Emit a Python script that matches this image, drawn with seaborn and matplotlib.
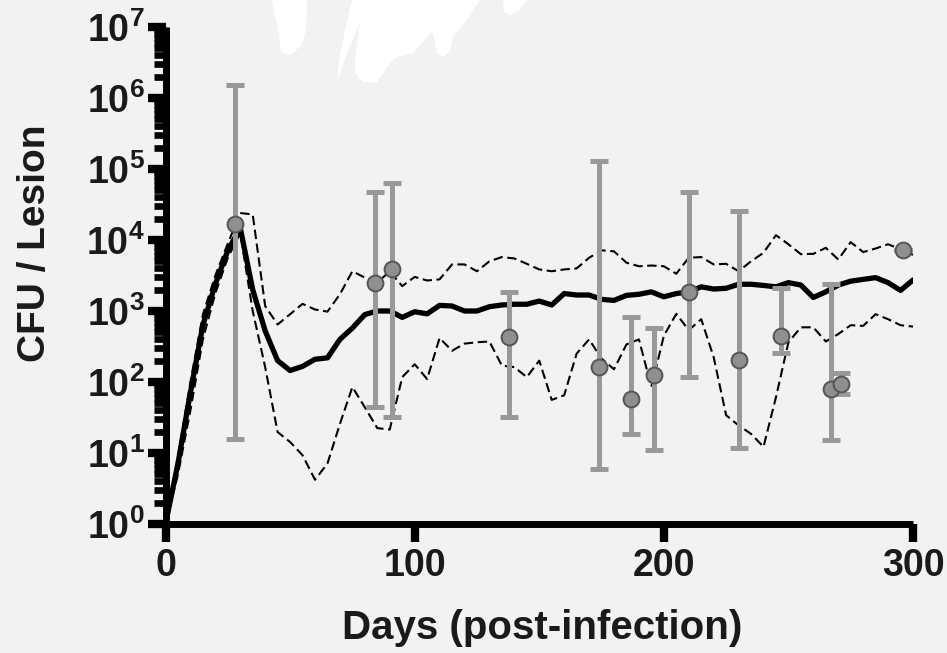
import numpy as np
import pandas as pd
import matplotlib
matplotlib.use("Agg")
import matplotlib.pyplot as plt
import seaborn as sns
from matplotlib.ticker import LogLocator, NullFormatter, FuncFormatter, FixedLocator
from matplotlib.patches import Polygon

# ---------------- data ----------------
days = [0, 5, 10, 15, 20, 25, 30, 35, 40, 45, 50, 55, 60, 65, 70, 75, 80, 85, 90, 95,
        100, 105, 110, 115, 120, 125, 130, 135, 140, 145, 150, 155, 160, 165, 170, 175,
        180, 185, 190, 195, 200, 205, 210, 215, 220, 225, 230, 235, 240, 245, 250, 255,
        260, 265, 270, 275, 280, 285, 290, 295, 300]

median = [1, 7.1, 71, 630, 2400, 7100, 14800, 2000, 525, 200, 145, 166, 209, 219, 398,
          575, 891, 1000, 1000, 813, 977, 912, 1200, 1175, 1000, 1000, 1150, 1215, 1245,
          1245, 1380, 1215, 1760, 1680, 1680, 1460, 1410, 1660, 1720, 1860, 1585, 1760,
          1860, 2190, 2040, 2090, 2380, 2380, 2290, 2190, 2510, 2320, 1550, 1860, 2320,
          2630, 2790, 2950, 2510, 1950, 2730]

upper = [1, 8.9, 100, 890, 3160, 8900, 24000, 22900, 1175, 645, 900, 1260, 1050, 980,
         1720, 3630, 2950, 2510, 3630, 2240, 3020, 2690, 2790, 4530, 4530, 3630, 5010,
         5750, 5500, 4620, 3850, 3630, 3850, 3980, 5620, 7160, 6920, 4790, 4270, 4370,
         4270, 3350, 5620, 5750, 4530, 4620, 3630, 5010, 6610, 11700, 8710, 6310, 6380,
         7760, 5320, 9330, 6760, 7590, 8710, 7410, 6170]

lower = [1, 5.0, 40, 400, 1780, 5620, 12600, 1000, 162, 19.7, 14.3, 9.3, 4.2, 7.1, 25.7,
         85, 44, 22.4, 21.4, 117, 178, 110, 417, 275, 347, 363, 372, 170, 162, 117, 200,
         56, 65, 251, 398, 214, 151, 339, 398, 85, 447, 912, 537, 767, 224, 34, 24.5,
         18.6, 12.2, 61, 363, 589, 589, 372, 473, 631, 617, 902, 767, 631, 603]

obs_days = [28, 84, 91, 138, 174, 187, 196, 210, 230, 247, 267, 271, 296]
obs_value = [16800, 2450, 3940, 424, 164, 58, 126, 1870, 204, 448, 80, 94, 7200]
obs_high = [1500000, 48000, 63000, 1850, 130000, 827, 585, 48000, 26000, 2090, 2380, 132, 7200]
obs_low = [16, 45, 32, 32, 6, 18.3, 11.2, 119, 11.9, 253, 15, 68, 7200]

x_ticks = [0, 100, 200, 300]
y_exponents = [0, 1, 2, 3, 4, 5, 6, 7]

# ---------------- style ----------------
sns.set_style("ticks")
plt.rcParams["font.family"] = ["Liberation Sans", "DejaVu Sans"]
plt.rcParams["font.weight"] = "bold"
plt.rcParams["mathtext.fontset"] = "custom"
plt.rcParams["mathtext.rm"] = "Liberation Sans:bold"
plt.rcParams["mathtext.bf"] = "Liberation Sans:bold"
plt.rcParams["mathtext.it"] = "Liberation Sans:bold"

BG = "#f2f2f2"
TXT = "#1a1a1a"
W, H = 947, 653

fig = plt.figure(figsize=(W / 100, H / 100), dpi=100, facecolor=BG)

# decorative white blobs at the top of the figure
def px(points):
    return [(x / W, 1 - y / H) for x, y in points]

blobs = [
    [(272, 0), (307, 0), (306, 30), (302, 45), (290, 55), (281, 52), (279, 35), (275, 15)],
    [(352, 0), (345, 30), (339, 60), (338, 80), (348, 50), (360, 23), (356, 50), (355, 73),
     (363, 82), (377, 82), (390, 63), (397, 57), (413, 53), (427, 37), (432, 32), (435, 40),
     (437, 53), (443, 57), (450, 52), (453, 37), (467, 20), (480, 0)],
    [(503, 0), (527, 0), (520, 10), (510, 15), (504, 12)],
]
for b in blobs:
    fig.patches.append(Polygon(px(b), closed=True, transform=fig.transFigure,
                               facecolor="white", edgecolor="none", zorder=0))

ax = fig.add_axes([165.5 / W, 1 - 524 / H, (913 - 165.5) / W, (524 - 27) / H])
ax.set_facecolor("none")

df = pd.DataFrame({"days": days, "median": median, "upper": upper, "lower": lower})

sns.lineplot(data=df, x="days", y="upper", ax=ax, color="black", lw=1.5,
             dashes=False, estimator=None, linestyle=(0, (4.5, 2.2)), zorder=2)
sns.lineplot(data=df, x="days", y="lower", ax=ax, color="black", lw=1.5,
             dashes=False, estimator=None, linestyle=(0, (4.5, 2.2)), zorder=2)
sns.lineplot(data=df, x="days", y="median", ax=ax, color="black", lw=3.8,
             estimator=None, zorder=3)

obs_value_a = np.array(obs_value, dtype=float)
yerr = np.vstack([obs_value_a - np.array(obs_low, dtype=float),
                  np.array(obs_high, dtype=float) - obs_value_a])
ax.errorbar(obs_days, obs_value, yerr=yerr, fmt="none", ecolor="#999999",
            elinewidth=3.6, capsize=6.5, capthick=3.6, zorder=4, clip_on=False)
sns.scatterplot(x=obs_days, y=obs_value, ax=ax, s=130, color="#8f8f8f",
                edgecolor="#555555", linewidth=1.4, zorder=5, clip_on=False)

ax.set_yscale("log")
ax.set_ylim(1, 1e7)
ax.set_xlim(0, 300)
ax.xaxis.set_major_locator(FixedLocator(x_ticks))
ax.yaxis.set_major_locator(FixedLocator([10.0 ** e for e in y_exponents]))
ax.yaxis.set_major_formatter(FuncFormatter(lambda v, p: r"$\mathbf{10^{%d}}$" % round(np.log10(v))))
ax.yaxis.set_minor_locator(LogLocator(base=10, subs=np.arange(2, 10), numticks=30))
ax.yaxis.set_minor_formatter(NullFormatter())

for side in ["top", "right"]:
    ax.spines[side].set_visible(False)
for side in ["left", "bottom"]:
    ax.spines[side].set_linewidth(5)
    ax.spines[side].set_color("black")
    ax.spines[side].set_capstyle("butt")

ax.tick_params(axis="both", which="major", length=13, width=6, color="black",
               labelcolor=TXT)
ax.tick_params(axis="y", which="minor", length=9, width=4.8, color="black")
ax.tick_params(axis="x", which="major", labelsize=27, pad=4)
ax.tick_params(axis="y", which="major", labelsize=27, pad=2)
for lab in ax.get_xticklabels():
    lab.set_fontweight("bold")

ax.set_xlabel("Days (post-infection)", fontsize=29, fontweight="bold", color=TXT)
ax.set_ylabel("CFU / Lesion", fontsize=28, fontweight="bold", color=TXT)
ax.xaxis.set_label_coords(0.504, -0.172)
ax.yaxis.set_label_coords(-0.15, 0.565)

fig.savefig("out.png", dpi=100, facecolor=BG)
